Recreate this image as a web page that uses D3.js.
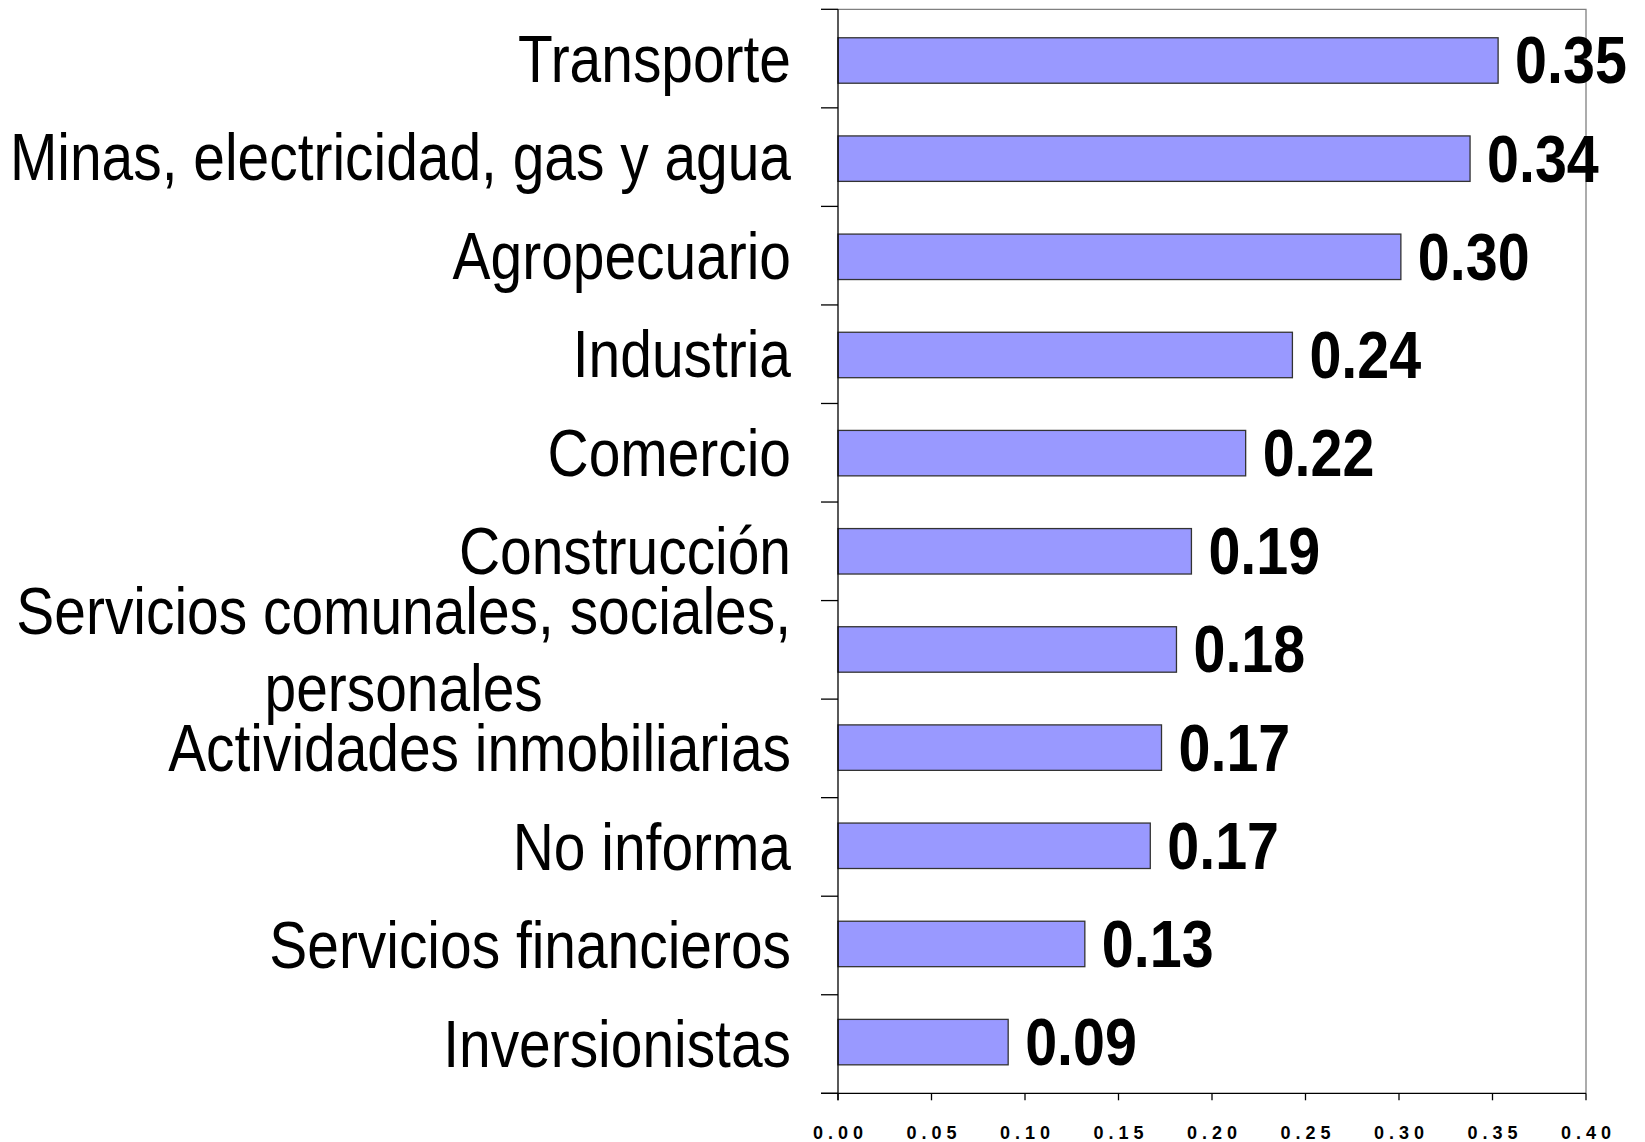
<!DOCTYPE html>
<html>
<head>
<meta charset="utf-8">
<script src="https://cdn.jsdelivr.net/npm/d3@7"></script>
<style>
  html, body { margin: 0; padding: 0; background: #fff; }
  svg { display: block; }
  .cat { font-family: "Liberation Sans", Arial, sans-serif; font-size: 66px; fill: #000; }
  .val { font-family: "Liberation Sans", Arial, sans-serif; font-size: 66px; font-weight: bold; fill: #000; }
  .tick-label { font-family: "Liberation Sans", Arial, sans-serif; font-size: 18px; font-weight: bold; letter-spacing: 5px; fill: #000; }
</style>
</head>
<body>
<svg id="vis" width="1645" height="1142"></svg>
<script>
const sectors = [
  ['Transporte'],
  ['Minas, electricidad, gas y agua'],
  ['Agropecuario'],
  ['Industria'],
  ['Comercio'],
  ['Construcción'],
  ['Servicios comunales, sociales,', 'personales'],
  ['Actividades inmobiliarias'],
  ['No informa'],
  ['Servicios financieros'],
  ['Inversionistas']
];
const values = [0.353, 0.338, 0.301, 0.243, 0.218, 0.189, 0.181, 0.173, 0.167, 0.132, 0.091];
const xTicks = [0, 0.05, 0.10, 0.15, 0.20, 0.25, 0.30, 0.35, 0.40];

const svg = d3.select('#vis');
const plotLeft = 838, plotRight = 1586, plotTop = 9.3, plotBottom = 1093.3;
const catNarrow = 0.862, valNarrow = 0.87; // narrow-font look from Liberation Sans

const x = d3.scaleLinear().domain([0, 0.4]).range([plotLeft, plotRight]);
const y = d3.scaleBand().domain(d3.range(sectors.length)).range([plotTop, plotBottom])
  .paddingInner(0.537).paddingOuter(0.29);

// plot frame (top and right, grey)
svg.append('path')
  .attr('d', `M${plotLeft},${plotTop}H${plotRight}V${plotBottom}`)
  .attr('fill', 'none').attr('stroke', '#808080').attr('stroke-width', 1.3);

// bars
svg.selectAll('rect.bar').data(values).enter()
  .append('rect').classed('bar', true)
  .attr('x', x(0))
  .attr('y', (d, i) => y(i))
  .attr('width', d => x(d) - x(0))
  .attr('height', y.bandwidth())
  .attr('fill', '#9999FF')
  .attr('stroke', '#333')
  .attr('stroke-width', 1.3);

// value labels
svg.selectAll('text.val').data(values).enter()
  .append('text').classed('val', true)
  .attr('transform', (d, i) => `translate(${x(d) + 17},${y(i) + y.bandwidth() / 2 + 23}) scale(${valNarrow},1)`)
  .text(d => d.toFixed(2));

// category axis
const step = (plotBottom - plotTop) / sectors.length;
const bounds = d3.range(sectors.length + 1).map(i => plotTop + i * step);
svg.selectAll('line.ytick').data(bounds).enter()
  .append('line').classed('ytick', true)
  .attr('x1', plotLeft - 17).attr('x2', plotLeft)
  .attr('y1', d => d).attr('y2', d => d)
  .attr('stroke', '#000').attr('stroke-width', 1.3);
svg.append('line')
  .attr('x1', plotLeft).attr('x2', plotLeft).attr('y1', plotTop).attr('y2', plotBottom + 7)
  .attr('stroke', '#000').attr('stroke-width', 1.3);

const labelRight = 791;
sectors.forEach((lines, i) => {
  const cy = plotTop + (i + 0.5) * step;
  const lh = 77;
  const t = svg.append('text').classed('cat', true);
  if (lines.length === 1) {
    t.attr('text-anchor', 'end')
      .attr('transform', `translate(${labelRight},${cy + 23}) scale(${catNarrow},1)`)
      .text(lines[0]);
  } else {
    t.attr('text-anchor', 'middle');
    lines.forEach((l, j) => {
      t.append('tspan').attr('x', 0).attr('y', -lh / 2 + j * lh).text(l);
    });
    const w = d3.max(t.selectAll('tspan').nodes(), n => n.getComputedTextLength()) * catNarrow;
    t.attr('transform', `translate(${labelRight - w / 2},${cy + 23}) scale(${catNarrow},1)`);
  }
});

// value axis
const xAxis = svg.append('g');
xAxis.append('line')
  .attr('x1', plotLeft - 17).attr('x2', plotRight).attr('y1', plotBottom).attr('y2', plotBottom)
  .attr('stroke', '#000').attr('stroke-width', 1.3);
xAxis.selectAll('line.xtick').data(xTicks).enter()
  .append('line').classed('xtick', true)
  .attr('x1', d => x(d)).attr('x2', d => x(d))
  .attr('y1', plotBottom).attr('y2', plotBottom + 7)
  .attr('stroke', '#000').attr('stroke-width', 1.3);
xAxis.selectAll('text.tick-label').data(xTicks).enter()
  .append('text').classed('tick-label', true)
  .attr('x', d => x(d) + 2.5)
  .attr('y', 1139)
  .attr('text-anchor', 'middle')
  .text(d => d.toFixed(2));
</script>
</body>
</html>
